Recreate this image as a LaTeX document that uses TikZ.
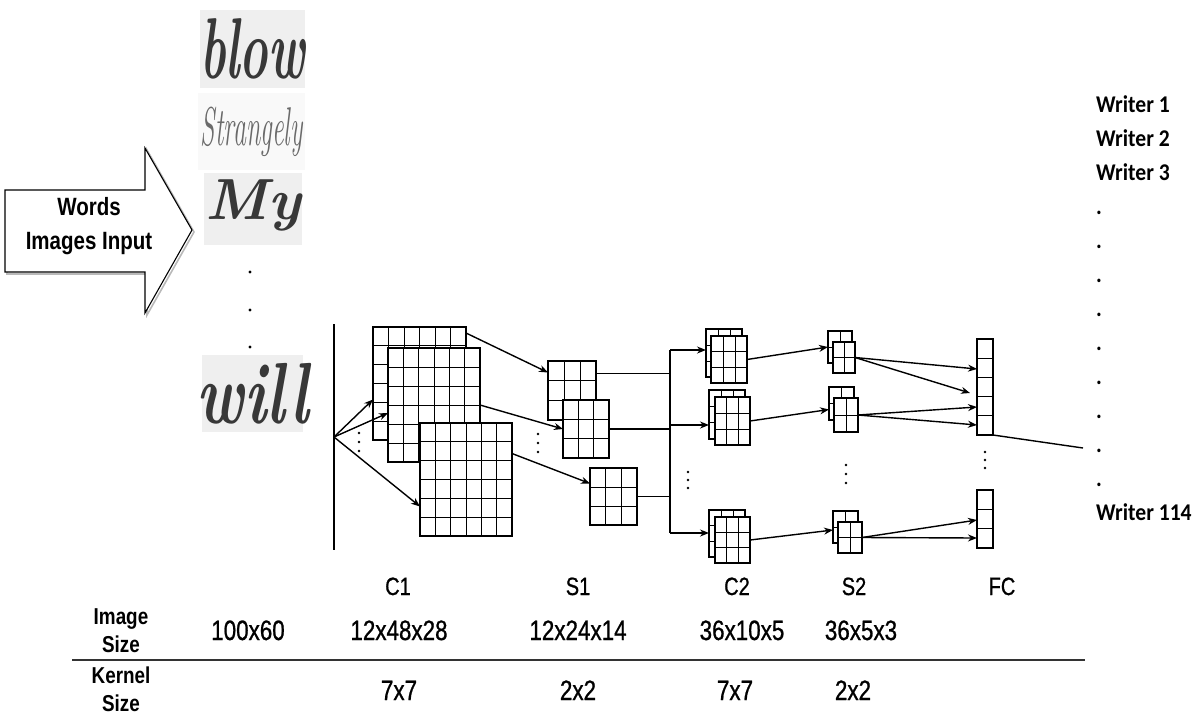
\documentclass[tikz,border=0pt]{standalone}
\usepackage{fontspec}
\usepackage{graphicx}
\usetikzlibrary{arrows.meta,calc}
\newfontfamily\narf{Liberation Sans}[FakeStretch=0.8,FakeBold=0.8]
\newfontfamily\narbf{Liberation Sans Bold}[FakeStretch=0.82]
\newfontfamily\wrf{Carlito Bold}[FakeStretch=0.9]
\definecolor{ink}{HTML}{383838}
\definecolor{inklight}{HTML}{6A6A6A}
\definecolor{paper}{HTML}{EFEFEF}
\tikzset{
  gl/.style={line width=0.9pt},
  fmap/.style n args={4}{draw, line width=1.3pt, fill=white, anchor=north west,
    inner sep=0pt, outer sep=0pt, minimum width=#1, minimum height=#2,
    path picture={
      \foreach \i in {1,...,#3}{\ifnum\i<#3\relax
        \draw[gl] ($(path picture bounding box.north west)!\i/#3!(path picture bounding box.north east)$)
          -- ($(path picture bounding box.south west)!\i/#3!(path picture bounding box.south east)$);\fi}
      \foreach \j in {1,...,#4}{\ifnum\j<#4\relax
        \draw[gl] ($(path picture bounding box.north west)!\j/#4!(path picture bounding box.south west)$)
          -- ($(path picture bounding box.north east)!\j/#4!(path picture bounding box.south east)$);\fi}
    }},
  shadowedge/.style={line width=2.4pt},
  arr/.style={-{Stealth[length=9pt,width=7pt]}, line width=1.4pt},
  ln/.style={line width=1.4pt},
  lbl/.style={font=\narf\fontsize{25}{30}\selectfont, inner sep=0pt, anchor=base},
  num/.style={font=\narf\fontsize{28}{32}\selectfont, inner sep=0pt, anchor=base},
  rowhead/.style={font=\narbf\fontsize{23}{28}\selectfont, align=center, inner sep=0pt},
  wr/.style={font=\wrf\fontsize{24}{26}\selectfont, inner sep=0pt, anchor=base west},
  hw/.style={fill=paper, inner sep=0pt, minimum width=#1, anchor=north west},
}
\newcommand\fmapnode[7]{%
  \node[fmap={#4pt}{#5pt}{#6}{#7}] (#1) at (#2,#3) {};
  \draw[shadowedge] ([xshift=-0.6pt]#1.south west) -- (#1.south east) -- ([yshift=-0.6pt]#1.north east);
}
\begin{document}
\begin{tikzpicture}[x=1pt,y=-1pt]
\useasboundingbox (0,0) rectangle (1204,715);

% ---- input block arrow
\draw[gray!55, line width=1.6pt, shift={(2,2)}]
  (5,190) -- (145,190) -- (145,148) -- (192,230) -- (145,313) -- (145,272) -- (5,272) -- cycle;
\draw[line width=1.1pt, fill=white]
  (5,190) -- (145,190) -- (145,148) -- (192,230) -- (145,313) -- (145,272) -- (5,272) -- cycle;
\node[font=\narbf\fontsize{25}{34}\selectfont, align=center, inner sep=0pt] (inp) at (89,226) {Words\\Images Input};

% ---- handwritten word images
\node[hw=105pt, minimum height=78pt] (hw1) at (200,10) {};
\node[text=ink, inner sep=0pt] at (hw1.center) {\scalebox{1}[1.8]{\fontsize{48}{50}\selectfont\bfseries\itshape blow}};
\node[hw=107pt, minimum height=77pt, fill=paper!40] (hw2) at (198,93) {};
\node[text=inklight, inner sep=0pt] at (hw2.center) {\scalebox{1}[2.1]{\fontsize{26}{28}\selectfont\itshape Strangely}};
\node[hw=98pt, minimum height=72pt] (hw3) at (204,173) {};
\node[text=ink, inner sep=0pt] at ([yshift=4pt]hw3.center) {\fontsize{58}{60}\selectfont\bfseries\itshape My};
\node[hw=101pt, minimum height=77pt] (hw4) at (202,355) {};
\node[text=ink, inner sep=0pt] at (hw4.center) {\scalebox{1}[1.4]{\fontsize{62}{64}\selectfont\bfseries\itshape will}};
\foreach \yy in {272,310,347} \fill (250,\yy) circle (1.6pt);

% ---- input line
\coordinate (vt) at (334,324);
\coordinate (vb) at (334,550);
\coordinate (org) at (334,437);
\draw[line width=1.2pt] (vt) -- (vb);

% ---- C1 maps
\fmapnode{c1a}{373}{327}{93}{113}{6}{6}
\fmapnode{c1b}{388}{348}{92}{114}{6}{6}
\fmapnode{c1c}{420}{423}{92}{113}{6}{6}
\draw[arr] (org) -- ([yshift=-16pt]c1a.west);
\draw[arr] (org) -- ([yshift=-8pt]c1b.west);
\draw[arr] (org) -- ([yshift=-27pt]c1c.west);
\foreach \yy in {433,442,451} \fill (359,\yy) circle (1.4pt);

% ---- S1 maps
\fmapnode{s1a}{548}{361}{48}{59}{3}{3}
\fmapnode{s1b}{563}{400}{46}{58}{3}{3}
\fmapnode{s1c}{590}{468}{47}{57}{3}{3}
\draw[arr] ([yshift=-6pt]c1a.north east) -- ([yshift=18pt]s1a.west);
\draw[arr] (c1b.east) -- (s1b.west);
\draw[arr] ([yshift=26pt]c1c.east) -- ([yshift=13pt]s1c.west);
\foreach \yy in {434,443,452} \fill (538,\yy) circle (1.4pt);

% ---- bracket
\coordinate (btop) at (670,350);
\coordinate (bmid) at (670,425);
\coordinate (bbot) at (670,533);
\coordinate (p1) at ([yshift=17pt]s1a.east);
\coordinate (p2) at (s1b.east);
\coordinate (p3) at (s1c.east);
\draw[ln] (btop) -- (bbot);
\draw[ln] (p1) -- (p1 -| btop);
\draw[ln] (p2) -- (p2 -| btop);
\draw[ln] (p3) -- (p3 -| btop);

% ---- C2 maps
\fmapnode{c2ab}{706}{329}{36}{48}{3}{3}
\fmapnode{c2a}{711}{336}{36}{47}{3}{3}
\fmapnode{c2bb}{709}{390}{36}{49}{3}{3}
\fmapnode{c2b}{715}{397}{35}{48}{3}{3}
\fmapnode{c2cb}{709}{510}{36}{47}{3}{3}
\fmapnode{c2c}{715}{517}{35}{46}{3}{3}
\draw[arr] (btop) -- (btop -| c2ab.west);
\draw[arr] (bmid) -- (bmid -| c2bb.west);
\draw[arr] (bbot) -- (bbot -| c2cb.west);
\foreach \yy in {472,480,488} \fill (688,\yy) circle (1.4pt);

% ---- S2 maps
\fmapnode{s2ab}{828}{331}{24}{32}{2}{2}
\fmapnode{s2a}{833}{342}{22}{31}{2}{2}
\fmapnode{s2bb}{829}{387}{25}{33}{2}{2}
\fmapnode{s2b}{834}{398}{24}{34}{2}{2}
\fmapnode{s2cb}{833}{511}{25}{32}{2}{2}
\fmapnode{s2c}{838}{522}{24}{31}{2}{2}
\draw[arr] (c2a.east) -- (s2ab.west);
\draw[arr] (c2b.east) -- ([yshift=-6pt]s2bb.west);
\draw[arr] (c2c.east) -- ([yshift=-3pt]s2cb.west);
\foreach \yy in {465,474,483} \fill (846,\yy) circle (1.4pt);

% ---- FC columns
\node[fmap={16pt}{96pt}{1}{5}] (fca) at (977,339) {};
\node[fmap={16pt}{58pt}{1}{3}] (fcb) at (977,490) {};
\draw[arr] (s2a.east) -- ([yshift=18pt]fca.west);
\draw[arr] (s2a.east) -- ([xshift=-7pt,yshift=-6pt]fca.west);
\draw[arr] (s2b.east) -- ([yshift=-20pt]fca.west);
\draw[arr] (s2b.east) -- ([yshift=-38pt]fca.west);
\draw[arr] (s2c.east) -- ([yshift=-1pt]fcb.west);
\draw[arr] (s2c.east) -- ([yshift=-19pt]fcb.west);
\foreach \yy in {452,460,468} \fill (985,\yy) circle (1.4pt);
\coordinate (outend) at (1083,448);
\draw[ln] (fca.south east) -- (outend);

% ---- writers
\foreach \t [count=\k from 0] in {Writer 1,Writer 2,Writer 3,.,.,.,.,.,.,.,.,.,Writer 114}
  \node[wr] (wr\k) at (1096,112+34*\k) {\t};

% ---- table
\node[lbl] (lc1) at (398,595) {C1};
\node[lbl] (ls1) at (578,595) {S1};
\node[lbl] (lc2) at (737,595) {C2};
\node[lbl] (ls2) at (854,595) {S2};
\node[lbl] (lfc) at (1002,595) {FC};

\node[rowhead] (ihead) at (121,631) {Image\\Size};
\node[num] (n0) at (248,640) {100x60};
\node[num] (n1) at (399,640) {12x48x28};
\node[num] (n2) at (578,640) {12x24x14};
\node[num] (n3) at (742,640) {36x10x5};
\node[num] (n4) at (861,640) {36x5x3};

\coordinate (rl) at (72,660);
\coordinate (rr) at (1085,660);
\draw[line width=1.8pt, black!80] (rl) -- (rr);

\node[rowhead] (khead) at (121,689) {Kernel\\Size};
\node[num] (k1) at (399,700) {7x7};
\node[num] (k2) at (578,700) {2x2};
\node[num] (k3) at (735,700) {7x7};
\node[num] (k4) at (853,700) {2x2};
\end{tikzpicture}
\end{document}
